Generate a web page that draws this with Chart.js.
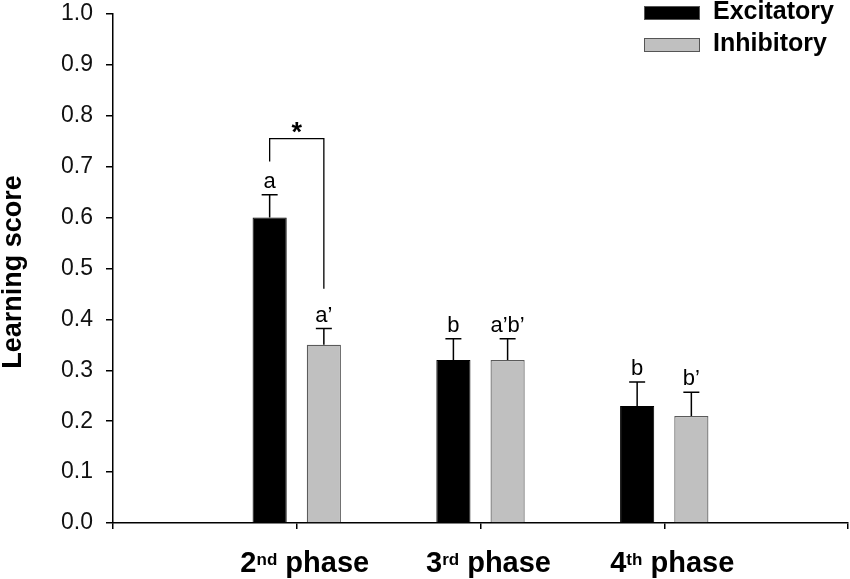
<!DOCTYPE html>
<html>
<head>
<meta charset="utf-8">
<script src="https://cdn.jsdelivr.net/npm/chart.js@4.4.0/dist/chart.umd.min.js"></script>
<style>
  body { margin: 0; background: #fff; }
  #wrap { width: 850px; height: 579px; }
</style>
</head>
<body>
<div id="wrap"><canvas id="myChart"></canvas></div>
<script>
// chart data
const categories = ['2nd phase', '3rd phase', '4th phase'];
const seriesNames = ['Excitatory', 'Inhibitory'];
const excitatory = [0.60, 0.32, 0.23];
const inhibitory = [0.35, 0.32, 0.21];
const excitatoryErr = [0.645, 0.362, 0.277];
const inhibitoryErr = [0.382, 0.362, 0.257];
const excitatoryLetters = ['a', 'b', 'b'];
const inhibitoryLetters = ['a\u2019', 'a\u2019b\u2019', 'b\u2019'];
const yTicks = [0, 0.1, 0.2, 0.3, 0.4, 0.5, 0.6, 0.7, 0.8, 0.9, 1.0];
// significance bracket over 2nd phase (data units)
const bracketTop = 0.755;
const bracketLeftFoot = 0.71;
const bracketRightFoot = 0.46;

const FONT = '"Liberation Sans", Arial, sans-serif';

// empty slot at each end so the groups sit on the inner ticks
const labels = [''].concat(categories, ['']);
const pad = arr => [null].concat(arr, [null]);
const errs = [pad(excitatoryErr), pad(inhibitoryErr)];
const letters = [pad(excitatoryLetters), pad(inhibitoryLetters)];

const extras = {
  id: 'extras',
  afterDatasetsDraw(chart) {
    const ctx = chart.ctx;
    const y = chart.scales.y;
    ctx.save();
    // error bars and letters
    for (let d = 0; d < 2; d++) {
      const meta = chart.getDatasetMeta(d);
      meta.data.forEach((bar, i) => {
        if (errs[d][i] == null) return;
        const top = y.getPixelForValue(errs[d][i]);
        ctx.strokeStyle = '#000';
        ctx.lineWidth = 1.5;
        ctx.beginPath();
        ctx.moveTo(bar.x, bar.y);
        ctx.lineTo(bar.x, top);
        ctx.moveTo(bar.x - 8, top);
        ctx.lineTo(bar.x + 8, top);
        ctx.stroke();
        ctx.fillStyle = '#000';
        ctx.font = '22px ' + FONT;
        ctx.textAlign = 'center';
        ctx.textBaseline = 'alphabetic';
        ctx.fillText(letters[d][i], bar.x, top - 7);
      });
    }
    // bracket with star
    const b0 = chart.getDatasetMeta(0).data[1];
    const b1 = chart.getDatasetMeta(1).data[1];
    const yt = y.getPixelForValue(bracketTop);
    ctx.lineWidth = 1.3;
    ctx.beginPath();
    ctx.moveTo(b0.x, y.getPixelForValue(bracketLeftFoot));
    ctx.lineTo(b0.x, yt);
    ctx.lineTo(b1.x, yt);
    ctx.lineTo(b1.x, y.getPixelForValue(bracketRightFoot));
    ctx.stroke();
    ctx.font = 'bold 27px ' + FONT;
    ctx.textAlign = 'center';
    ctx.fillText('*', (b0.x + b1.x) / 2, yt + 2);

    // x labels with superscripts
    const x = chart.scales.x;
    categories.forEach((c, i) => {
      const m = c.match(/^(\d+)(\D+?) (.*)$/);
      const big = 'bold 29px ' + FONT;
      const small = 'bold 17px ' + FONT;
      ctx.font = big;
      const w1 = ctx.measureText(m[1]).width;
      const w3 = ctx.measureText(' ' + m[3]).width;
      ctx.font = small;
      const w2 = ctx.measureText(m[2]).width;
      let cx = x.getPixelForValue(i + 1) + 8 - (w1 + w2 + w3) / 2;
      ctx.textAlign = 'left';
      ctx.font = big;
      ctx.fillText(m[1], cx, 572);
      ctx.font = small;
      ctx.fillText(m[2], cx + w1, 565);
      ctx.font = big;
      ctx.fillText(' ' + m[3], cx + w1 + w2, 572);
    });

    // y title
    ctx.save();
    ctx.translate(21, 272);
    ctx.rotate(-Math.PI / 2);
    ctx.font = 'bold 27px ' + FONT;
    ctx.textAlign = 'center';
    ctx.textBaseline = 'alphabetic';
    ctx.fillText('Learning score', 0, 0);
    ctx.restore();

    // legend
    const colors = ['#000000', '#c0c0c0'];
    seriesNames.forEach((n, i) => {
      const by = 6 + i * 32;
      ctx.fillStyle = colors[i];
      ctx.fillRect(644, by, 56, 14);
      ctx.strokeStyle = '#555';
      ctx.lineWidth = 1;
      ctx.strokeRect(644.5, by + 0.5, 55, 13);
      ctx.fillStyle = '#000';
      ctx.font = 'bold 25px ' + FONT;
      ctx.textAlign = 'left';
      ctx.textBaseline = 'alphabetic';
      ctx.fillText(n, 713, by + 13);
    });
    ctx.restore();
  }
};

new Chart(document.getElementById('myChart'), {
  type: 'bar',
  data: {
    labels: labels,
    datasets: [{
      label: seriesNames[0],
      data: pad(excitatory),
      backgroundColor: '#000000',
      borderColor: '#000000',
      borderWidth: 1,
      categoryPercentage: 0.59,
      barPercentage: 0.63
    }, {
      label: seriesNames[1],
      data: pad(inhibitory),
      backgroundColor: '#c0c0c0',
      borderColor: '#5a5a5a',
      borderWidth: 1.2,
      categoryPercentage: 0.59,
      barPercentage: 0.63
    }]
  },
  options: {
    responsive: true,
    maintainAspectRatio: false,
    animation: false,
    layout: { padding: { top: 14, right: 2, left: 0, bottom: 0 } },
    plugins: { legend: { display: false }, tooltip: { enabled: false } },
    scales: {
      x: {
        offset: false,
        grid: { offset: false, drawOnChartArea: false, drawTicks: true, tickLength: 6, color: '#000', lineWidth: 1.5 },
        border: { display: true, color: '#000', width: 1.5 },
        ticks: { display: false },
        afterFit(scale) {
          scale.height = 56;
          scale.paddingLeft = 0;
          scale.paddingRight = 0;
        }
      },
      y: {
        min: 0,
        max: 1,
        afterBuildTicks(scale) { scale.ticks = yTicks.map(v => ({ value: v })); },
        grid: { drawOnChartArea: false, drawTicks: true, tickLength: 7, color: '#000', lineWidth: 1.5 },
        border: { display: true, color: '#000', width: 1.5 },
        ticks: {
          color: '#111',
          padding: 13,
          font: { family: FONT, size: 23 },
          callback: v => v.toFixed(1)
        },
        afterFit(scale) {
          scale.width = 113;
          scale.paddingTop = 0;
          scale.paddingBottom = 0;
        }
      }
    }
  },
  plugins: [extras]
});
</script>
</body>
</html>
